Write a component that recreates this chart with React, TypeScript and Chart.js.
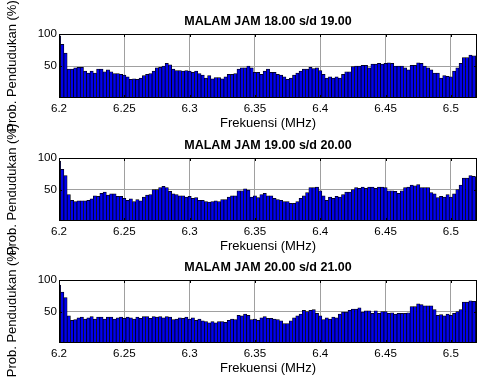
import React, { useEffect, useRef } from 'react';
import { Chart, registerables } from 'chart.js';

Chart.register(...registerables);

// ---------- data ----------
const FREQUENCIES_MHZ = [
  6.2, 6.2025, 6.205, 6.2075, 6.21, 6.2125, 6.215, 6.2175, 6.22, 6.2225, 6.225, 6.2275,
  6.23, 6.2325, 6.235, 6.2375, 6.24, 6.2425, 6.245, 6.2475, 6.25, 6.2525, 6.255, 6.2575,
  6.26, 6.2625, 6.265, 6.2675, 6.27, 6.2725, 6.275, 6.2775, 6.28, 6.2825, 6.285, 6.2875,
  6.29, 6.2925, 6.295, 6.2975, 6.3, 6.3025, 6.305, 6.3075, 6.31, 6.3125, 6.315, 6.3175,
  6.32, 6.3225, 6.325, 6.3275, 6.33, 6.3325, 6.335, 6.3375, 6.34, 6.3425, 6.345, 6.3475,
  6.35, 6.3525, 6.355, 6.3575, 6.36, 6.3625, 6.365, 6.3675, 6.37, 6.3725, 6.375, 6.3775,
  6.38, 6.3825, 6.385, 6.3875, 6.39, 6.3925, 6.395, 6.3975, 6.4, 6.4025, 6.405, 6.4075,
  6.41, 6.4125, 6.415, 6.4175, 6.42, 6.4225, 6.425, 6.4275, 6.43, 6.4325, 6.435, 6.4375,
  6.44, 6.4425, 6.445, 6.4475, 6.45, 6.4525, 6.455, 6.4575, 6.46, 6.4625, 6.465, 6.4675,
  6.47, 6.4725, 6.475, 6.4775, 6.48, 6.4825, 6.485, 6.4875, 6.49, 6.4925, 6.495, 6.4975,
  6.5, 6.5025, 6.505, 6.5075, 6.51, 6.5125, 6.515, 6.5175, 6.52,
];

const PROB_18_19 = [
  97, 84, 70, 45, 45, 47, 48, 48, 42, 39, 42, 39, 45, 45, 41, 44, 41, 38, 38, 37,
  36, 33, 29, 30, 29, 31, 35, 37, 38, 42, 47, 48, 50, 54, 52, 45, 43, 43, 42, 43,
  42, 40, 42, 38, 36, 31, 35, 30, 32, 32, 30, 33, 37, 37, 38, 45, 47, 47, 50, 47,
  40, 40, 37, 42, 45, 40, 40, 37, 36, 33, 29, 31, 36, 39, 42, 45, 45, 48, 46, 47,
  43, 37, 31, 33, 31, 33, 31, 37, 41, 41, 49, 50, 50, 51, 51, 47, 53, 53, 54, 53,
  54, 55, 54, 50, 50, 50, 47, 44, 51, 51, 55, 54, 50, 47, 44, 39, 39, 31, 35, 34,
  33, 42, 47, 54, 63, 63, 67, 66, 66,
];

const PROB_19_20 = [
  95, 82, 72, 42, 33, 31, 32, 32, 32, 33, 35, 40, 39, 44, 46, 41, 43, 43, 39, 39,
  36, 33, 35, 31, 34, 32, 38, 41, 42, 50, 50, 53, 55, 53, 47, 43, 42, 40, 40, 38,
  39, 36, 37, 33, 33, 31, 30, 31, 32, 31, 34, 34, 38, 40, 40, 48, 48, 51, 49, 38,
  40, 37, 42, 44, 40, 40, 36, 34, 33, 31, 31, 28, 28, 31, 36, 40, 45, 53, 53, 54,
  48, 40, 33, 38, 36, 39, 38, 42, 46, 46, 50, 53, 52, 54, 52, 54, 54, 52, 54, 54,
  53, 48, 48, 47, 44, 48, 53, 54, 57, 56, 58, 53, 53, 53, 45, 43, 37, 39, 38, 42,
  38, 43, 50, 57, 68, 68, 72, 71, 70,
];

const PROB_20_21 = [
  92, 81, 72, 43, 36, 37, 40, 41, 38, 40, 42, 38, 41, 41, 38, 41, 41, 38, 40, 41,
  39, 41, 40, 38, 41, 39, 42, 42, 39, 42, 41, 42, 40, 42, 41, 37, 38, 40, 39, 41,
  38, 40, 36, 38, 35, 34, 32, 34, 32, 34, 34, 33, 36, 38, 37, 44, 43, 46, 44, 37,
  38, 36, 40, 42, 39, 39, 38, 37, 35, 31, 31, 35, 40, 43, 46, 52, 50, 52, 53, 47,
  43, 37, 40, 38, 41, 40, 46, 49, 49, 52, 54, 54, 56, 49, 51, 51, 47, 51, 47, 50,
  50, 47, 48, 46, 47, 47, 47, 48, 58, 58, 62, 61, 59, 59, 59, 53, 44, 45, 43, 46,
  44, 47, 50, 53, 65, 65, 67, 66, 66,
];

const PANEL_SERIES = [PROB_18_19, PROB_19_20, PROB_20_21];
const PANEL_TITLES = [
  'MALAM JAM 18.00 s/d 19.00',
  'MALAM JAM 19.00 s/d 20.00',
  'MALAM JAM 20.00 s/d 21.00',
];
const X_TICKS = [6.2, 6.25, 6.3, 6.35, 6.4, 6.45, 6.5];
const Y_TICKS = [50, 100];
const X_LABEL = 'Frekuensi (MHz)';
const Y_LABEL = 'Prob. Pendudukan (%)';
const X_MIN = 6.2;
const X_MAX = 6.52;
const Y_MIN = 0;
const Y_MAX = 100;

// ---------- layout / style ----------
const W = 479;
const H = 377;
const PLOT_TOPS = [34, 158, 280];
const PLOT_BOTTOMS = [98, 221, 343];
const PLOT_LEFT = 59;
const RIGHT_PAD = 2;
const FONT = "'Liberation Sans', Arial, Helvetica, sans-serif";
const TICK_SIZE = 11.6;
const TITLE_SIZE = 12.5;
const LABEL_SIZE = 13;
const TITLE_GAP = 12.5; // title center to plot top
const XLABEL_OFFSET = 25; // plot bottom to x label center
const GRID = '#a0a0a0';
const BAR_FILL = '#0000f0';

Chart.defaults.font.family = FONT;
Chart.defaults.color = '#000';

const framePlugin = {
  id: 'frame',
  afterDraw(chart: any, _args: any, opts: any) {
    const { ctx, chartArea: a, scales } = chart;
    ctx.save();
    ctx.strokeStyle = '#000';
    ctx.lineWidth = 1;
    ctx.strokeRect(a.left + 0.5, a.top + 0.5, a.right - a.left - 1, a.bottom - a.top - 1);
    ctx.beginPath();
    scales.x.ticks.forEach((t: any) => {
      const px = Math.round(scales.x.getPixelForValue(t.value)) + 0.5;
      ctx.moveTo(px, a.top);
      ctx.lineTo(px, a.top + 3);
      ctx.moveTo(px, a.bottom);
      ctx.lineTo(px, a.bottom - 3);
    });
    scales.y.ticks.forEach((t: any) => {
      const py = Math.round(scales.y.getPixelForValue(t.value)) + 0.5;
      ctx.moveTo(a.left, py);
      ctx.lineTo(a.left + 3, py);
      ctx.moveTo(a.right, py);
      ctx.lineTo(a.right - 3, py);
    });
    ctx.stroke();
    // y axis label (allowed to overflow like in the original figure)
    ctx.fillStyle = '#000';
    ctx.font = `${LABEL_SIZE}px ${FONT}`;
    ctx.translate(opts.x, (a.top + a.bottom) / 2);
    ctx.rotate(-Math.PI / 2);
    ctx.textAlign = 'center';
    ctx.textBaseline = 'middle';
    ctx.fillText(opts.text, 0, 0);
    ctx.restore();
  },
};

function makeConfig(k: number): any {
  const titleLH = TITLE_SIZE * 1.2;
  const titlePadBottom = TITLE_GAP - titleLH / 2;
  const xHeight = XLABEL_OFFSET + (LABEL_SIZE * 1.2) / 2;
  const series = PANEL_SERIES[k];
  return {
    type: 'bar',
    data: {
      datasets: [
        {
          data: FREQUENCIES_MHZ.map((f, i) => ({ x: f, y: series[i] })),
          backgroundColor: BAR_FILL,
          borderColor: '#000',
          borderWidth: 0.75,
          borderSkipped: false,
          barPercentage: 1,
          categoryPercentage: 1,
          clip: 0,
        },
      ],
    },
    options: {
      responsive: false,
      maintainAspectRatio: false,
      devicePixelRatio: 1,
      animation: false,
      events: [],
      layout: {
        padding: {
          left: 0,
          right: RIGHT_PAD,
          top: PLOT_TOPS[k] - titleLH - titlePadBottom,
          bottom: H - PLOT_BOTTOMS[k] - xHeight,
        },
      },
      scales: {
        x: {
          type: 'linear',
          min: X_MIN,
          max: X_MAX,
          offset: false,
          afterBuildTicks: (s: any) => {
            s.ticks = X_TICKS.map((v) => ({ value: v }));
          },
          afterFit: (s: any) => {
            s.height = xHeight;
          },
          ticks: {
            padding: 3.5,
            font: { size: TICK_SIZE },
            color: '#000',
            maxRotation: 0,
            autoSkip: false,
            callback: (v: number) => String(Number(Number(v).toFixed(2))),
          },
          grid: { color: GRID, lineWidth: 1, drawTicks: false, offset: false },
          border: { display: false },
          title: {
            display: true,
            text: X_LABEL,
            font: { size: LABEL_SIZE },
            color: '#000',
            padding: 0,
          },
        },
        y: {
          min: Y_MIN,
          max: Y_MAX,
          afterBuildTicks: (s: any) => {
            s.ticks = Y_TICKS.map((v) => ({ value: v }));
          },
          afterFit: (s: any) => {
            s.width = PLOT_LEFT;
          },
          ticks: { padding: 2, font: { size: TICK_SIZE }, color: '#000' },
          grid: { color: GRID, lineWidth: 1, drawTicks: false },
          border: { display: false },
        },
      },
      plugins: {
        legend: { display: false },
        tooltip: { enabled: false },
        title: {
          display: true,
          fullSize: false,
          text: PANEL_TITLES[k],
          color: '#000',
          font: { size: TITLE_SIZE, weight: 'bold' },
          padding: { top: 0, bottom: titlePadBottom },
        },
        frame: { text: Y_LABEL, x: 12 },
      },
    },
    plugins: [framePlugin],
  };
}

export default function App() {
  const r0 = useRef<HTMLCanvasElement | null>(null);
  const r1 = useRef<HTMLCanvasElement | null>(null);
  const r2 = useRef<HTMLCanvasElement | null>(null);
  const refs = [r0, r1, r2];

  useEffect(() => {
    document.body.style.margin = '0';
    const charts = refs.map((r, k) => new Chart(r.current as HTMLCanvasElement, makeConfig(k)));
    return () => charts.forEach((c) => c.destroy());
  }, []);

  return (
    <div style={{ position: 'relative', width: W, height: H, background: '#fff' }}>
      {refs.map((r, k) => (
        <canvas
          key={k}
          ref={r}
          width={W}
          height={H}
          style={{ position: 'absolute', left: 0, top: 0, width: W, height: H }}
        />
      ))}
    </div>
  );
}
